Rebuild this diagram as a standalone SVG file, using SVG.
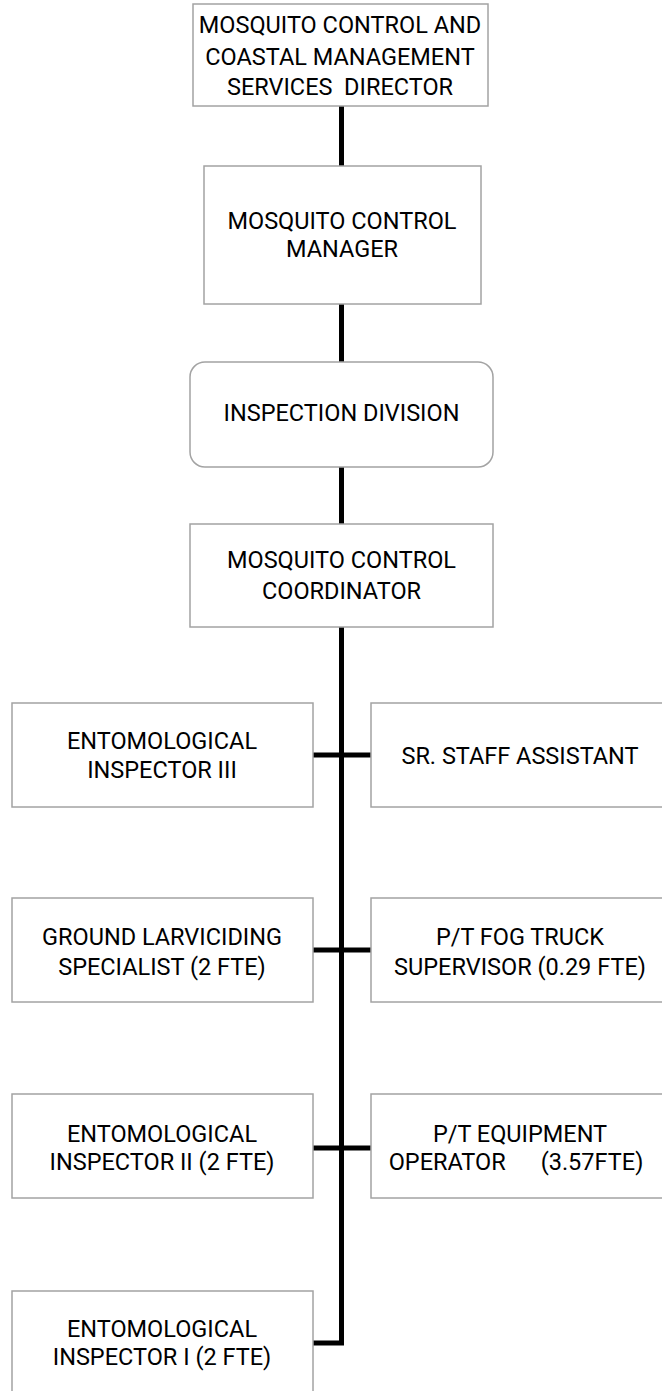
<svg xmlns="http://www.w3.org/2000/svg" width="662" height="1391" viewBox="0 0 662 1391">
<style>
.box{fill:#fff;stroke:#a3a3a3;stroke-width:1.5}
.t{font-family:Roboto,"Liberation Sans",sans-serif;font-size:23.5px;fill:#000;text-anchor:middle;white-space:pre}
.c{fill:none;stroke:#000;stroke-width:5;stroke-linejoin:miter}
</style>
<rect width="662" height="1391" fill="#fff"/>
<g id="connectors">
<path class="c" d="M341.5,106 V1343 H313"/>
<path class="c" d="M313,755 H371"/>
<path class="c" d="M313,950 H371"/>
<path class="c" d="M313,1148 H371"/>
</g>
<g id="director">
<rect class="box" x="193" y="4" width="295" height="102"/>
<text class="t" x="340" y="33">MOSQUITO CONTROL AND</text>
<text class="t" x="340" y="65">COASTAL MANAGEMENT</text>
<text class="t" x="340" y="95">SERVICES  DIRECTOR</text>
</g>
<g id="manager">
<rect class="box" x="204" y="166" width="277" height="138"/>
<text class="t" x="342" y="229">MOSQUITO CONTROL</text>
<text class="t" x="342" y="257">MANAGER</text>
</g>
<g id="inspection-division">
<rect class="box" x="190" y="362" width="303" height="105" rx="15" ry="15"/>
<text class="t" x="341.5" y="421">INSPECTION DIVISION</text>
</g>
<g id="coordinator">
<rect class="box" x="190" y="524" width="303" height="103"/>
<text class="t" x="341.5" y="568">MOSQUITO CONTROL</text>
<text class="t" x="341.5" y="599">COORDINATOR</text>
</g>
<g id="ent-inspector-3">
<rect class="box" x="12" y="703" width="301" height="104"/>
<text class="t" x="162" y="749">ENTOMOLOGICAL</text>
<text class="t" x="162" y="778">INSPECTOR III</text>
</g>
<g id="sr-staff-assistant">
<rect class="box" x="371" y="703" width="301" height="104"/>
<text class="t" x="520" y="764">SR. STAFF ASSISTANT</text>
</g>
<g id="ground-larviciding">
<rect class="box" x="12" y="898" width="301" height="104"/>
<text class="t" x="162" y="945">GROUND LARVICIDING</text>
<text class="t" x="162" y="975">SPECIALIST (2 FTE)</text>
</g>
<g id="fog-truck-supervisor">
<rect class="box" x="371" y="898" width="301" height="104"/>
<text class="t" x="520" y="945">P/T FOG TRUCK</text>
<text class="t" x="520" y="975">SUPERVISOR (0.29 FTE)</text>
</g>
<g id="ent-inspector-2">
<rect class="box" x="12" y="1094" width="301" height="104"/>
<text class="t" x="162" y="1142">ENTOMOLOGICAL</text>
<text class="t" x="162" y="1170">INSPECTOR II (2 FTE)</text>
</g>
<g id="equipment-operator">
<rect class="box" x="371" y="1094" width="301" height="104"/>
<text class="t" x="520" y="1142">P/T EQUIPMENT</text>
<text class="t" x="516" y="1170">OPERATOR      (3.57FTE)</text>
</g>
<g id="ent-inspector-1">
<rect class="box" x="12" y="1291" width="301" height="104"/>
<text class="t" x="162" y="1337">ENTOMOLOGICAL</text>
<text class="t" x="162" y="1365">INSPECTOR I (2 FTE)</text>
</g>
</svg>
